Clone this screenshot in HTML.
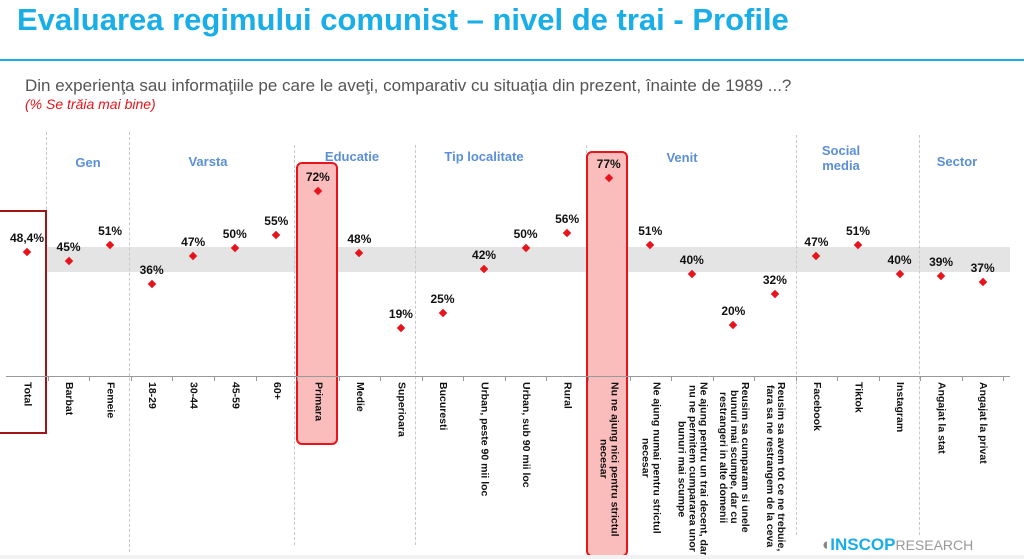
<!DOCTYPE html>
<html><head><meta charset="utf-8"><style>
body{margin:0;width:1024px;height:559px;background:#fff;position:relative;overflow:hidden;font-family:"Liberation Sans",sans-serif}
.a{position:absolute}
.t{left:17px;top:2px;font-family:"Liberation Sans Narrow","Liberation Sans",sans-serif;font-weight:bold;font-size:31px;color:#1aaee8;white-space:nowrap}
.hd{color:#5b8fd6;font-weight:bold;font-size:13px;text-align:center;transform:translateX(-50%);line-height:15px}
.v{font-weight:bold;font-size:12px;color:#111;transform:translateX(-50%);white-space:nowrap}
.d{width:6px;height:6px;background:#e8141b;transform:translate(-50%,-50%) rotate(45deg)}
.lb{top:382px;writing-mode:vertical-rl;font-weight:bold;font-size:10.5px;line-height:11px;text-align:center;transform:translateX(-50%);white-space:nowrap;color:#111}
.dv{width:0;border-left:1px dashed #c8c8c8}
.tk{top:376px;width:1px;height:5px;background:#999}
</style></head><body>
<div class="a t">Evaluarea regimului comunist – nivel de trai - Profile</div>
<div class="a" style="left:0;top:59px;width:1024px;height:2px;background:#1aaee8"></div>
<div class="a" style="left:25px;top:76px;font-size:17px;color:#555;white-space:nowrap">Din experienţa sau informaţiile pe care le aveţi, comparativ cu situaţia din prezent, înainte de 1989 ...?</div>
<div class="a" style="left:25px;top:96px;font-size:14px;color:#e8141b;font-style:italic">(% Se trăia mai bine)</div>

<div class="a" style="left:46px;top:247px;width:964px;height:25px;background:#e4e4e4"></div>

<div class="a dv" style="left:46px;top:132px;height:246px"></div>
<div class="a dv" style="left:129px;top:132px;height:420px"></div>
<div class="a dv" style="left:294px;top:145px;height:400px"></div>
<div class="a dv" style="left:415px;top:145px;height:400px"></div>
<div class="a dv" style="left:586px;top:145px;height:400px"></div>
<div class="a dv" style="left:796px;top:135px;height:400px"></div>
<div class="a dv" style="left:919px;top:135px;height:400px"></div>

<div class="a" style="left:296px;top:162px;width:38px;height:279px;background:#fbbcbc;border:2px solid #e8141b;border-radius:6px"></div>
<div class="a" style="left:586px;top:151px;width:38px;height:402px;background:#fbbcbc;border:2px solid #e8141b;border-radius:6px"></div>
<div class="a" style="left:-3px;top:210px;width:46px;height:220px;border:2px solid #a01616"></div>

<div class="a" style="left:6px;top:376px;width:1004px;height:1px;background:#999"></div>

<div class="a hd" style="left:88px;top:155px">Gen</div>
<div class="a hd" style="left:208px;top:154px">Varsta</div>
<div class="a hd" style="left:352px;top:149px">Educatie</div>
<div class="a hd" style="left:484px;top:149px">Tip localitate</div>
<div class="a hd" style="left:682px;top:150px">Venit</div>
<div class="a hd" style="left:841px;top:143px">Social<br>media</div>
<div class="a hd" style="left:957px;top:154px">Sector</div>

<div id="c"></div>
<div class="a" style="left:820px;top:535px;font-size:17px;font-weight:bold;color:#1aaee8;white-space:nowrap"><span style="color:#888">◖</span>INSCOP<span style="font-weight:normal;color:#999;font-size:14px">RESEARCH</span></div>
<div class="a" style="left:0;top:555px;width:1024px;height:4px;background:#f2f2f2"></div>
<script>
var d=[["Total",48.4,"48,4%"],["Barbat",45],["Femeie",51],["18-29",36],["30-44",47],["45-59",50],["60+",55],["Primara",72],["Medie",48],["Superioara",19],["Bucuresti",25],["Urban, peste 90 mii loc",42],["Urban, sub 90 mii loc",50],["Rural",56],["Nu ne ajung nici pentru strictul<br>necesar",77],["Ne ajung numai pentru strictul<br>necesar",51],["Ne ajung pentru un trai decent, dar<br>nu ne permitem cumpararea unor<br>bunuri mai scumpe",40],["Reusim sa cumparam si unele<br>bunuri mai scumpe, dar cu<br>restrangeri in alte domenii",20],["Reusim sa avem tot ce ne trebuie,<br>fara sa ne restrangem de la ceva",32],["Facebook",47],["Tiktok",51],["Instagram",40],["Angajat la stat",39],["Angajat la privat",37]];
var h="";
d.forEach(function(e,i){var x=27+i*41.55,y=377-2.58*e[1];
h+='<div class="a d" style="left:'+x+'px;top:'+y+'px"></div>';
h+='<div class="a v" style="left:'+x+'px;top:'+(y-21)+'px">'+(e[2]||e[1]+'%')+'</div>';
h+='<div class="a lb" style="left:'+x+'px">'+e[0]+'</div>';
h+='<div class="a tk" style="left:'+(x+20.8)+'px"></div>';});
document.getElementById("c").innerHTML=h;
</script>
</body></html>
